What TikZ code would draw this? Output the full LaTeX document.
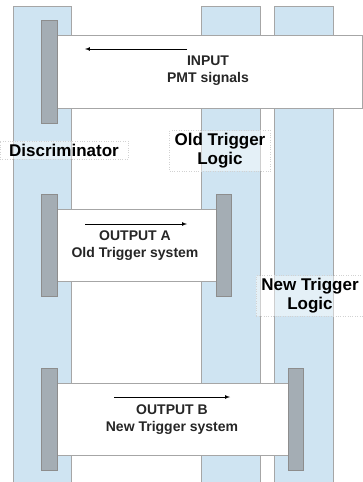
\documentclass[tikz,border=0pt]{standalone}
\usepackage{fontspec}
\setmainfont{Liberation Sans}
\usetikzlibrary{positioning}
\definecolor{lanefill}{HTML}{CFE4F2}
\definecolor{barfill}{HTML}{A4ADB4}
\definecolor{edgegray}{HTML}{A6A6A6}
\tikzset{
  lane/.style={draw=edgegray,fill=lanefill,line width=0.8pt},
  bar/.style={draw=edgegray!85!black,fill=barfill,line width=0.6pt},
  msgbox/.style={draw=edgegray,fill=white,line width=0.8pt},
  lbl/.style={draw=gray!35,dotted,fill=white,fill opacity=0.45,text opacity=1,
    font=\fontsize{17}{19}\selectfont\bfseries,align=center,inner xsep=5pt,inner ysep=3pt},
  msg/.style={font=\fontsize{14}{17}\selectfont\bfseries,align=center,text=black!85},
  sig/.style={->,>=latex,line width=0.7pt}
}
\begin{document}
\begin{tikzpicture}[x=1pt,y=-1pt]
  \useasboundingbox (0,0) rectangle (363,482);
  % lanes
  \draw[lane] (13,6) rectangle (71,484);
  \draw[lane] (201,6) rectangle (260,484);
  \draw[lane] (274,6) rectangle (333,484);

  % lane labels
  \node[lbl,minimum width=128pt] (disc) at (64,150) {Discriminator};
  \node[lbl] (oldlogic) at (220,151) {Old Trigger\\Logic};
  \node[lbl] (newlogic) at (310,296) {New Trigger\\Logic};

  % input
  \draw[msgbox] (57,35) rectangle (362,108);
  \draw[bar] (41,20) rectangle (57,123);
  \coordinate (in-s) at (187,49);
  \coordinate (in-e) at (85,49);
  \draw[sig] (in-s) -- (in-e);
  \node[msg] (input) at (208,71) {INPUT\\PMT signals};

  % output A
  \draw[msgbox] (57,209) rectangle (216,281);
  \draw[bar] (41,194) rectangle (57,296);
  \draw[bar] (216,194) rectangle (231,296);
  \coordinate (a-s) at (85,224);
  \coordinate (a-e) at (187,224);
  \draw[sig] (a-s) -- (a-e);
  \node[msg] (outa) at (135,246) {OUTPUT A\\Old Trigger system};

  % output B
  \draw[msgbox] (57,383) rectangle (288,455);
  \draw[bar] (41,368) rectangle (57,470);
  \draw[bar] (288,368) rectangle (303,470);
  \coordinate (b-s) at (114,397);
  \coordinate (b-e) at (230,397);
  \draw[sig] (b-s) -- (b-e);
  \node[msg] (outb) at (172,420) {OUTPUT B\\New Trigger system};
\end{tikzpicture}
\end{document}
